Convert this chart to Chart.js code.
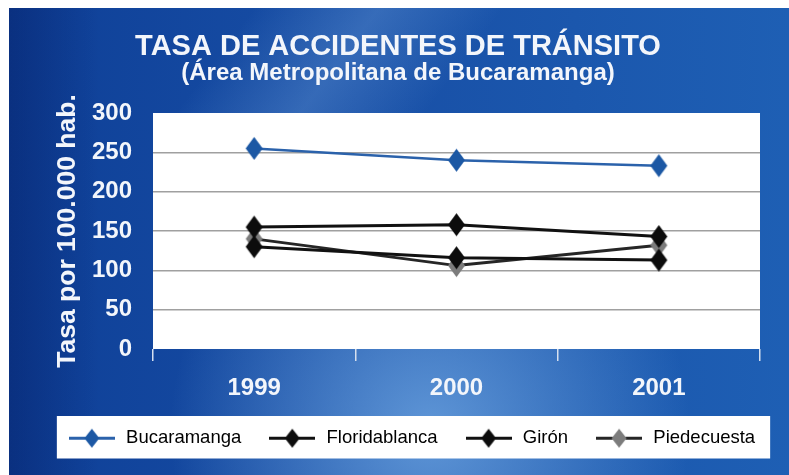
<!DOCTYPE html>
<html>
<head>
<meta charset="utf-8">
<script src="https://cdn.jsdelivr.net/npm/chart.js@4.4.1/dist/chart.umd.min.js"></script>
<style>
  html, body { margin: 0; padding: 0; background: #fff; }
  canvas { display: block; }
</style>
</head>
<body>
<canvas id="chart" width="789" height="475"></canvas>
<script>
// tasa por 100.000 habitantes, por municipio
var years = ['1999', '2000', '2001'];
var bucaramanga = [255, 240, 233];
var floridablanca = [155, 158, 143];
var giron = [130, 116, 113];
var piedecuesta = [140, 106, 132];

var seriesNames = ['Bucaramanga', 'Floridablanca', 'Girón', 'Piedecuesta'];
var lineColors = ['#2b62ab', '#111111', '#111111', '#262626'];
var markColors = ['#1c58a4', '#0c0c0c', '#0c0c0c', '#7c7c7c'];

var FONT = "'Liberation Sans', Arial, sans-serif";
var WHITE = '#f3f6fb';

// tall diamond marker, optionally with a line through it (legend icon)
function diamond(fill, w, h, lineColor, iconWidth) {
  var c = document.createElement('canvas');
  c.width = iconWidth || w + 2;
  c.height = h + 2;
  var g = c.getContext('2d');
  var cx = c.width / 2, cy = c.height / 2;
  if (lineColor) {
    g.strokeStyle = lineColor;
    g.lineWidth = 3;
    g.beginPath();
    g.moveTo(0, cy);
    g.lineTo(c.width, cy);
    g.stroke();
  }
  g.fillStyle = fill;
  g.beginPath();
  g.moveTo(cx, cy - h / 2);
  g.lineTo(cx + w / 2, cy);
  g.lineTo(cx, cy + h / 2);
  g.lineTo(cx - w / 2, cy);
  g.closePath();
  g.fill();
  return c;
}

var pointIcons = markColors.map(function (c) { return diamond(c, 17, 23); });
var legendIcons = markColors.map(function (c, i) { return diamond(c, 15, 19, lineColors[i], 46); });

var values = [bucaramanga, floridablanca, giron, piedecuesta];
var datasets = values.map(function (v, i) {
  return {
    label: seriesNames[i],
    data: v,
    borderColor: lineColors[i],
    borderWidth: i === 0 ? 2.5 : 3,
    pointStyle: pointIcons[i],
    pointRadius: 9,
    tension: 0
  };
});

var backdrop = {
  id: 'backdrop',
  afterLayout: function (chart) {
    // legend row and headings sit a little right of centre
    chart.legend.left += 27;
    chart.legend.right += 27;
    chart.boxes.forEach(function (b) {
      if (b !== chart.legend && b.position === 'top') {
        b.left += 14;
        b.right += 14;
      }
    });
  },
  beforeDraw: function (chart) {
    var ctx = chart.ctx, w = chart.width, h = chart.height, a = chart.chartArea;
    ctx.save();
    ctx.fillStyle = '#ffffff';
    ctx.fillRect(0, 0, w, h);

    // blue panel
    var x0 = 9, y0 = 8;
    var lin = ctx.createLinearGradient(x0, 0, w, 0);
    lin.addColorStop(0, '#0e3f97');
    lin.addColorStop(0.45, '#184fa6');
    lin.addColorStop(1, '#1e5fb4');
    ctx.fillStyle = lin;
    ctx.fillRect(x0, y0, w - x0, h - y0);

    // light diagonal streak near the top
    var streak = ctx.createLinearGradient(260, 0, 420, 120);
    streak.addColorStop(0, 'rgba(110,160,220,0)');
    streak.addColorStop(0.5, 'rgba(110,160,220,0.35)');
    streak.addColorStop(1, 'rgba(110,160,220,0)');
    ctx.fillStyle = streak;
    ctx.fillRect(x0, y0, w - x0, 120);

    // glow at the bottom centre
    var glow = ctx.createRadialGradient(430, 430, 10, 430, 430, 260);
    glow.addColorStop(0, 'rgba(120,175,232,0.7)');
    glow.addColorStop(1, 'rgba(120,175,232,0)');
    ctx.fillStyle = glow;
    ctx.fillRect(x0, y0, w - x0, h - y0);

    // darker left edge
    var edge = ctx.createLinearGradient(x0, 0, x0 + 90, 0);
    edge.addColorStop(0, 'rgba(5,30,100,0.45)');
    edge.addColorStop(1, 'rgba(5,30,100,0)');
    ctx.fillStyle = edge;
    ctx.fillRect(x0, y0, 90, h - y0);

    // plot area
    ctx.fillStyle = '#ffffff';
    ctx.fillRect(a.left, a.top, a.right - a.left, a.bottom - a.top);

    // legend frame
    var lg = chart.legend, boxes = lg.legendHitBoxes;
    if (boxes && boxes.length) {
      var first = boxes[0], last = boxes[boxes.length - 1];
      var bx = first.left - 10, bw = last.left + last.width + 15 - bx;
      ctx.fillStyle = '#ffffff';
      ctx.fillRect(bx, lg.top + 13, bw, lg.bottom - lg.top - 12);
    }
    ctx.restore();
  }
};

new Chart(document.getElementById('chart'), {
  type: 'line',
  data: { labels: years, datasets: datasets },
  plugins: [backdrop],
  options: {
    responsive: false,
    animation: false,
    layout: { padding: { top: 32, left: 8, right: 29, bottom: 17.5 } },
    scales: {
      x: {
        offset: true,
        border: { display: false },
        grid: {
          offset: true,
          drawOnChartArea: false,
          drawTicks: true,
          tickLength: 12,
          color: '#d6e0ef',
          lineWidth: 1.5
        },
        ticks: {
          color: WHITE,
          padding: 15.5,
          font: { family: FONT, size: 24, weight: 'bold', lineHeight: 1 }
        },
        afterFit: function (scale) { scale.height -= 13; }
      },
      y: {
        min: 0,
        max: 300,
        border: { display: false },
        grid: {
          drawTicks: false,
          lineWidth: 1.5,
          color: function (c) {
            var v = c.tick && c.tick.value;
            return (v === 0 || v === 300) ? 'rgba(0,0,0,0)' : '#a0a0a0';
          }
        },
        ticks: {
          stepSize: 50,
          autoSkip: false,
          color: WHITE,
          padding: 21,
          font: { family: FONT, size: 24, weight: 'bold', lineHeight: 1 }
        },
        title: {
          display: true,
          text: 'Tasa por 100.000 hab.',
          color: WHITE,
          padding: { top: 44, bottom: 0 },
          font: { family: FONT, size: 26.5, weight: 'bold' }
        },
        afterFit: function (scale) { scale.width = 145; }
      }
    },
    plugins: {
      title: {
        display: true,
        text: 'TASA DE ACCIDENTES DE TRÁNSITO',
        color: WHITE,
        padding: { top: 0, bottom: 0 },
        font: { family: FONT, size: 29, weight: 'bold', lineHeight: 1 }
      },
      subtitle: {
        display: true,
        text: '(Área Metropolitana de Bucaramanga)',
        color: WHITE,
        padding: { top: 0, bottom: 28 },
        font: { family: FONT, size: 24, weight: 'bold', lineHeight: 1 }
      },
      legend: {
        position: 'bottom',
        labels: {
          usePointStyle: true,
          pointStyleWidth: 50,
          padding: 26,
          color: '#1c1c1c',
          font: { family: FONT, size: 18.5 },
          generateLabels: function (chart) {
            return chart.data.datasets.map(function (ds, i) {
              return {
                text: ds.label,
                pointStyle: legendIcons[i],
                fillStyle: 'rgba(0,0,0,0)',
                strokeStyle: 'rgba(0,0,0,0)',
                lineWidth: 0,
                hidden: false,
                datasetIndex: i
              };
            });
          }
        }
      },
      tooltip: { enabled: false }
    }
  }
});
</script>
</body>
</html>
